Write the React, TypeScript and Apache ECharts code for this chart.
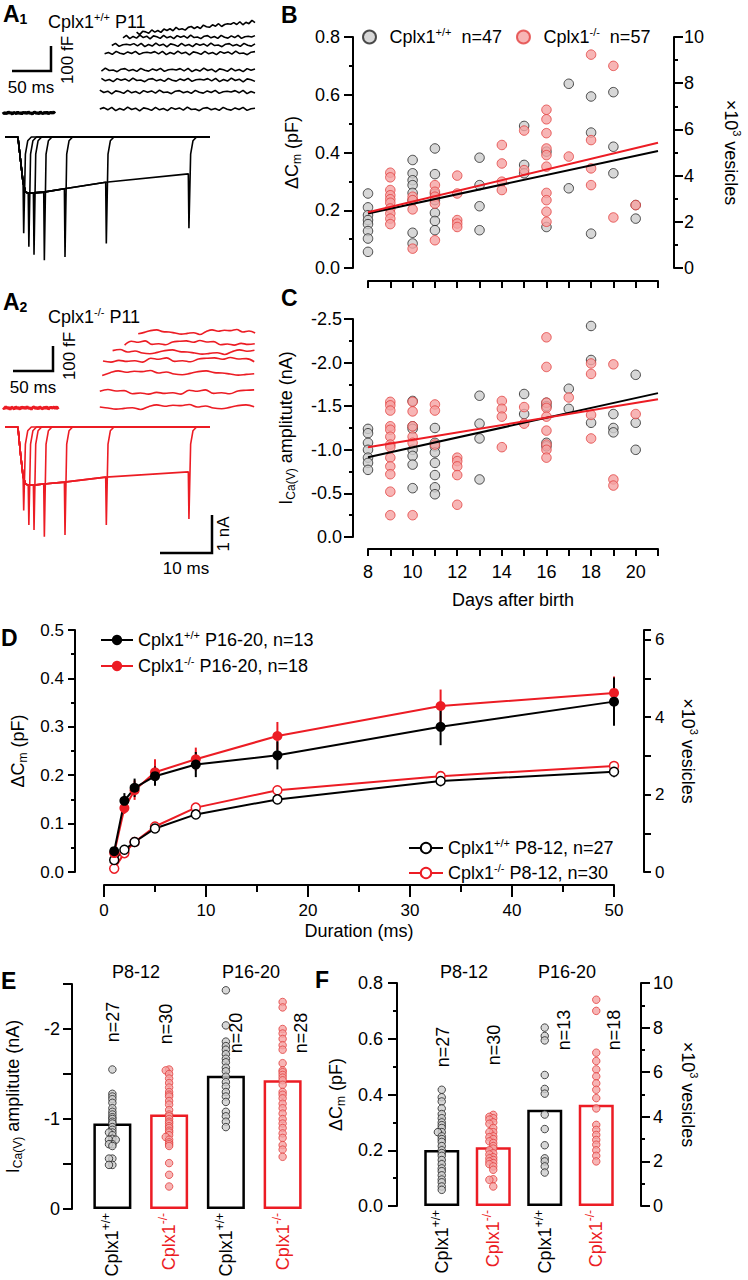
import React, { useEffect, useRef } from 'react';
import * as echarts from 'echarts';

const FONT = '"Liberation Sans", Arial, Helvetica, sans-serif';
const RED = '#ec1c24';
const PINK = '#f5a3a3';
const GRAY = '#cdcdcd';

// ---------------- Panel A: traces ----------------
const capNoise = [0, 5, -3, 6, -6, 2, -4, 7, -2, 3, -7, 4, 1, -5, 6, -3, 2, -6, 5, -1, 4, -4, 7, -2, 0, -6, 3, 5, -3, 2, -5, 6, -1, -4, 4, -2, 6, -5, 1, 3];
const a1CapStart = [121, 121, 123, 123, 127, 136, 150, 167];
const a1CapLevel = [16, 84, 132, 172, 240, 272, 304, 320];
const a1CapDrift = [0, 0, 0, 0, 0, 0, 0, 44];
const a2CapStart = [121, 121, 124, 125, 137, 152, 169];
const a2CapLevel = [4, 64, 140, 192, 224, 260, 304];
const curDur = [1, 2, 3, 5, 9, 17, 33];
const envT = [0, 0.5, 1, 1.5, 2, 3, 5, 9, 17, 33];
const a1Env = [0, -0.6, -1.2, -1.45, -1.48, -1.47, -1.45, -1.36, -1.19, -0.97];
const a1Tail = [-2.53, -2.89, -3.1, -3.24, -3.16, -2.8, -2.4];
const a2Env = [0, -0.7, -1.3, -1.5, -1.53, -1.53, -1.5, -1.45, -1.32, -1.18];
const a2Tail = [-2.2, -2.58, -2.71, -2.89, -2.84, -2.58, -2.42];
const tailDt = [0.12, 0.45, 0.9, 1.6];
const tailRet = [-0.45, -0.1, 0];

// ---------------- Panel B: ΔCm vs age ----------------
const bWt = [
  [8, 0.258], [8, 0.21], [8, 0.183], [8, 0.166], [8, 0.152], [8, 0.128], [8, 0.102], [8, 0.056],
  [10, 0.374], [10, 0.328], [10, 0.304], [10, 0.287], [10, 0.26], [10, 0.235], [10, 0.122], [10, 0.085],
  [11, 0.414], [11, 0.325], [11, 0.258], [11, 0.235], [11, 0.191], [11, 0.163], [11, 0.131],
  [13, 0.382], [13, 0.287], [13, 0.214], [13, 0.131],
  [15, 0.492], [15, 0.357], [15, 0.328],
  [16, 0.403], [16, 0.142],
  [17, 0.638], [17, 0.276],
  [18, 0.594], [18, 0.469], [18, 0.119],
  [19, 0.609], [19, 0.42], [19, 0.328],
  [20, 0.218], [20, 0.171],
];
const bKo = [
  [9, 0.33], [9, 0.314], [9, 0.27], [9, 0.252], [9, 0.238], [9, 0.226], [9, 0.206], [9, 0.189], [9, 0.171], [9, 0.152],
  [10, 0.247], [10, 0.235], [10, 0.203], [10, 0.067],
  [11, 0.287], [11, 0.264], [11, 0.247], [11, 0.223], [11, 0.096],
  [12, 0.32], [12, 0.258], [12, 0.166], [12, 0.154], [12, 0.142],
  [14, 0.426], [14, 0.362], [14, 0.299], [14, 0.27],
  [15, 0.476], [15, 0.339],
  [16, 0.548], [16, 0.515], [16, 0.467], [16, 0.414], [16, 0.391], [16, 0.351], [16, 0.26], [16, 0.235], [16, 0.195], [16, 0.16],
  [17, 0.386],
  [18, 0.739], [18, 0.443], [18, 0.345], [18, 0.287],
  [19, 0.7], [19, 0.175],
  [20, 0.218],
];
const fitAge = [8, 21];
const bFitWt = [0.189, 0.405];
const bFitKo = [0.193, 0.434];

// ---------------- Panel C: ICa vs age ----------------
const cWt = [
  [8, -1.24], [8, -1.19], [8, -1.08], [8, -1.0], [8, -0.91], [8, -0.85], [8, -0.77],
  [10, -1.56], [10, -1.27], [10, -1.24], [10, -1.0], [10, -0.93], [10, -0.83], [10, -0.56],
  [11, -1.25], [11, -1.08], [11, -1.04], [11, -0.97], [11, -0.85], [11, -0.71], [11, -0.57], [11, -0.49],
  [13, -1.62], [13, -1.3], [13, -1.13], [13, -0.66],
  [15, -1.64], [15, -1.41],
  [16, -1.54], [16, -1.5], [16, -1.08], [16, -1.04],
  [17, -1.7], [17, -1.47],
  [18, -2.42], [18, -2.03], [18, -1.31],
  [19, -1.41], [19, -1.25], [19, -1.2],
  [20, -1.86], [20, -1.31], [20, -1.0],
];
const cKo = [
  [9, -1.55], [9, -1.51], [9, -1.45], [9, -1.27], [9, -1.23], [9, -1.15], [9, -1.06], [9, -1.03], [9, -0.91], [9, -0.81], [9, -0.72], [9, -0.52], [9, -0.25],
  [10, -1.55], [10, -1.44], [10, -1.27], [10, -1.15], [10, -1.08], [10, -0.25],
  [11, -1.52], [11, -1.45], [11, -1.06],
  [12, -0.91], [12, -0.87], [12, -0.81], [12, -0.71], [12, -0.37],
  [14, -1.56], [14, -1.47], [14, -1.38], [14, -1.03],
  [15, -1.49], [15, -1.3],
  [16, -2.29], [16, -1.95], [16, -1.54], [16, -1.48], [16, -1.38], [16, -1.22], [16, -1.06], [16, -1.0], [16, -0.91],
  [17, -1.6],
  [18, -1.99], [18, -1.87], [18, -1.4], [18, -1.13],
  [19, -1.98], [19, -0.66], [19, -0.59],
  [20, -1.41],
];
const cFitWt = [-0.914, -1.65];
const cFitKo = [-1.03, -1.58];

// ---------------- Panel D: ΔCm vs duration ----------------
const durations = [1, 2, 3, 5, 9, 17, 33, 50];
const dWtOld = [0.043, 0.147, 0.174, 0.198, 0.222, 0.241, 0.3, 0.352];
const dWtOldSem = [0.006, 0.016, 0.019, 0.02, 0.026, 0.029, 0.038, 0.05];
const dKoOld = [0.039, 0.132, 0.169, 0.206, 0.233, 0.281, 0.343, 0.37];
const dKoOldSem = [0.005, 0.012, 0.02, 0.027, 0.024, 0.029, 0.034, 0.034];
const dWtYoung = [0.025, 0.046, 0.062, 0.09, 0.119, 0.15, 0.188, 0.207];
const dWtYoungSem = [0.004, 0.005, 0.005, 0.007, 0.008, 0.009, 0.011, 0.011];
const dKoYoung = [0.007, 0.039, 0.062, 0.094, 0.133, 0.169, 0.198, 0.219];
const dKoYoungSem = [0.004, 0.005, 0.005, 0.006, 0.007, 0.008, 0.008, 0.009];

// ---------------- Panel E: ICa per group ----------------
const groups = ['wt', 'ko', 'wt', 'ko'];
const eMeans = [-0.95, -1.05, -1.48, -1.43];
const eWtYoung = [-1.55, -1.28, -1.25, -1.22, -1.18, -1.12, -1.08, -1.05, -1.02, -1.0, -0.97, -0.95, -0.91, -0.88, -0.85, -0.85, -0.82, -0.78, -0.77, -0.77, -0.72, -0.72, -0.7, -0.56, -0.56, -0.49, -0.49];
const eKoYoung = [-1.55, -1.54, -1.5, -1.45, -1.4, -1.35, -1.3, -1.27, -1.25, -1.2, -1.16, -1.1, -1.05, -1.03, -1.0, -0.97, -0.95, -0.92, -0.9, -0.87, -0.85, -0.82, -0.8, -0.77, -0.74, -0.72, -0.7, -0.51, -0.38, -0.25];
const eWtOld = [-2.43, -2.04, -1.86, -1.81, -1.77, -1.72, -1.67, -1.63, -1.57, -1.53, -1.47, -1.41, -1.36, -1.3, -1.25, -1.19, -1.08, -1.03, -0.97, -0.91];
const eKoOld = [-2.3, -2.24, -2.0, -1.95, -1.89, -1.82, -1.77, -1.62, -1.54, -1.52, -1.49, -1.46, -1.43, -1.38, -1.3, -1.27, -1.23, -1.17, -1.12, -1.06, -1.0, -0.95, -0.9, -0.84, -0.79, -0.71, -0.66, -0.58];

// ---------------- Panel F: ΔCm per group ----------------
const fMeans = [0.201, 0.211, 0.345, 0.363];
const fWtYoung = [0.417, 0.39, 0.375, 0.35, 0.33, 0.315, 0.3, 0.29, 0.28, 0.265, 0.265, 0.25, 0.24, 0.23, 0.215, 0.2, 0.19, 0.18, 0.165, 0.15, 0.135, 0.125, 0.11, 0.095, 0.085, 0.07, 0.058];
const fKoYoung = [0.327, 0.32, 0.315, 0.31, 0.3, 0.295, 0.28, 0.265, 0.265, 0.25, 0.247, 0.24, 0.232, 0.226, 0.215, 0.206, 0.2, 0.189, 0.185, 0.175, 0.171, 0.165, 0.16, 0.154, 0.15, 0.142, 0.13, 0.096, 0.094, 0.07];
const fWtOld = [0.64, 0.61, 0.594, 0.47, 0.42, 0.403, 0.328, 0.276, 0.218, 0.171, 0.16, 0.142, 0.12];
const fKoOld = [0.74, 0.7, 0.55, 0.52, 0.49, 0.465, 0.44, 0.417, 0.387, 0.35, 0.291, 0.273, 0.255, 0.237, 0.22, 0.2, 0.18, 0.16];

// ---------------- helpers ----------------
function capTrace(start: number, end: number, level: number, drift: number, shift: number, amp: number, step: number) {
  const pts: number[][] = [];
  const n = capNoise.length;
  for (let i = 0; i < n; i += step) {
    const f = i / (n - 1);
    pts.push([start + (end - start) * f, level + drift * f + capNoise[(i + shift) % n] * amp]);
  }
  return pts;
}
function curTrace(k: number, env: number[], tail: number[]) {
  const d = curDur[k];
  const pts: number[][] = [[-2.5, 0]];
  envT.forEach((t, i) => { if (t <= d) pts.push([t, env[i]]); });
  pts.push([d + tailDt[0], tail[k]]);
  tailRet.forEach((v, i) => pts.push([d + tailDt[i + 1], v]));
  pts.push([37.2, 0]);
  return pts;
}
function swarm(vals: number[], cat: number, step: number, thr: number) {
  const placed: number[][] = [];
  const order = [0, -1, 1, -2, 2, -3, 3];
  return vals.map((v) => {
    let s = 0;
    for (const o of order) {
      if (!placed.some((p) => p[0] === o && Math.abs(p[1] - v) < thr)) { s = o; break; }
    }
    placed.push([s, v]);
    return [cat + s * step, v];
  });
}

const richBase = {
  t: { fontSize: 18, fontFamily: FONT, color: '#000', lineHeight: 22 },
  s: { fontSize: 11, fontFamily: FONT, color: '#000', verticalAlign: 'top', lineHeight: 12 },
  sub: { fontSize: 12, fontFamily: FONT, color: '#000', verticalAlign: 'bottom', lineHeight: 12 },
  sup: { fontSize: 11, fontFamily: FONT, color: '#000', verticalAlign: 'top', lineHeight: 12 },
};
const legendText: Record<string, string> = {
  wtB: '{t|Cplx1}{s|+/+}{t|  n=47}',
  koB: '{t|Cplx1}{s|-/-}{t|  n=57}',
  wtOld: '{t|Cplx1}{s|+/+}{t| P16-20, n=13}',
  koOld: '{t|Cplx1}{s|-/-}{t| P16-20, n=18}',
  wtYoung: '{t|Cplx1}{s|+/+}{t| P8-12, n=27}',
  koYoung: '{t|Cplx1}{s|-/-}{t| P8-12, n=30}',
};

const blackLine = { color: '#000', width: 2 };
function yAx(gridIndex: number, o: any) {
  return {
    type: 'value', gridIndex, splitLine: { show: false },
    axisLine: { show: true, onZero: false, lineStyle: blackLine },
    axisTick: { show: true, length: 9, lineStyle: blackLine },
    minorTick: { show: true, splitNumber: 2, length: 4, lineStyle: blackLine },
    axisLabel: { fontSize: 18, color: '#000', fontFamily: FONT, margin: 13 },
    nameLocation: 'middle',
    nameTextStyle: { fontSize: 18, fontFamily: FONT, color: '#000', rich: richBase },
    ...o,
  };
}
function hiddenAx(gridIndex: number, min: number, max: number) {
  return { type: 'value', gridIndex, min, max, show: false, splitLine: { show: false } };
}

function errSeries(mean: number[], sem: number[], color: string) {
  return {
    type: 'custom', xAxisIndex: 6, yAxisIndex: 7, z: 3, silent: true,
    data: durations.map((d, i) => [d, mean[i] - sem[i], mean[i] + sem[i]]),
    encode: { x: 0, y: [1, 2] },
    renderItem: (params: any, api: any) => {
      const a = api.coord([api.value(0), api.value(1)]);
      const b = api.coord([api.value(0), api.value(2)]);
      return { type: 'line', shape: { x1: a[0], y1: a[1], x2: b[0], y2: b[1] }, style: { stroke: color, lineWidth: 2 } };
    },
  };
}

function txt(x: number, y: number, text: string, o: any = {}) {
  return {
    type: 'text', x, y, rotation: o.rot || 0, z: 20,
    style: {
      text, fontFamily: FONT, fontSize: o.size || 18, fontWeight: o.bold ? 'bold' : 'normal',
      fill: o.color || '#000', align: o.align || 'center', verticalAlign: o.va || 'middle', rich: o.rich,
    },
  };
}
function bar(points: number[][]) {
  return { type: 'polyline', z: 20, shape: { points }, style: { stroke: '#000', lineWidth: 2.5, fill: null } };
}

function buildOption() {
  const series: any[] = [];
  // A1 capacitance
  series.push({ type: 'line', xAxisIndex: 0, yAxisIndex: 0, data: capTrace(0, 65, 0, 0, 3, 0.7, 1), showSymbol: false, lineStyle: { color: '#000', width: 3 } });
  a1CapLevel.forEach((lv, i) => series.push({
    type: 'line', xAxisIndex: 0, yAxisIndex: 0, showSymbol: false, lineStyle: { color: '#000', width: 1.6 },
    data: capTrace(a1CapStart[i], 315, lv, a1CapDrift[i], i * 7, 1.1, 1),
  }));
  // A1 currents
  curDur.forEach((_, k) => series.push({
    type: 'line', xAxisIndex: 1, yAxisIndex: 1, showSymbol: false, lineStyle: { color: '#000', width: 1.6 },
    data: curTrace(k, a1Env, a1Tail),
  }));
  // A2 capacitance
  series.push({ type: 'line', xAxisIndex: 2, yAxisIndex: 2, data: capTrace(0, 69, 0, 0, 5, 0.8, 1), showSymbol: false, lineStyle: { color: RED, width: 3 } });
  a2CapLevel.forEach((lv, i) => series.push({
    type: 'line', xAxisIndex: 2, yAxisIndex: 2, showSymbol: false, smooth: 0.4, lineStyle: { color: RED, width: 1.6 },
    data: capTrace(a2CapStart[i], 319, lv, 0, i * 5, 1.4, 2),
  }));
  curDur.forEach((_, k) => series.push({
    type: 'line', xAxisIndex: 3, yAxisIndex: 3, showSymbol: false, lineStyle: { color: RED, width: 1.6 },
    data: curTrace(k, a2Env, a2Tail),
  }));

  const grayDot = { color: GRAY, borderColor: '#222', borderWidth: 1 };
  const pinkDot = { color: PINK, borderColor: '#e2403e', borderWidth: 1 };
  // B
  series.push({ name: 'wtB', type: 'scatter', xAxisIndex: 4, yAxisIndex: 4, symbolSize: 9.5, itemStyle: grayDot, data: bWt });
  series.push({ name: 'koB', type: 'scatter', xAxisIndex: 4, yAxisIndex: 4, symbolSize: 9.5, itemStyle: pinkDot, data: bKo });
  series.push({ type: 'line', xAxisIndex: 4, yAxisIndex: 4, showSymbol: false, lineStyle: { color: '#000', width: 2 }, data: fitAge.map((a, i) => [a, bFitWt[i]]) });
  series.push({ type: 'line', xAxisIndex: 4, yAxisIndex: 4, showSymbol: false, lineStyle: { color: RED, width: 2 }, data: fitAge.map((a, i) => [a, bFitKo[i]]) });
  // C
  series.push({ type: 'scatter', xAxisIndex: 5, yAxisIndex: 6, symbolSize: 9.5, itemStyle: grayDot, data: cWt });
  series.push({ type: 'scatter', xAxisIndex: 5, yAxisIndex: 6, symbolSize: 9.5, itemStyle: pinkDot, data: cKo });
  series.push({ type: 'line', xAxisIndex: 5, yAxisIndex: 6, showSymbol: false, lineStyle: { color: '#000', width: 2 }, data: fitAge.map((a, i) => [a, cFitWt[i]]) });
  series.push({ type: 'line', xAxisIndex: 5, yAxisIndex: 6, showSymbol: false, lineStyle: { color: RED, width: 2 }, data: fitAge.map((a, i) => [a, cFitKo[i]]) });
  // D
  series.push(errSeries(dKoOld, dKoOldSem, RED));
  series.push(errSeries(dWtOld, dWtOldSem, '#000'));
  series.push(errSeries(dKoYoung, dKoYoungSem, RED));
  series.push(errSeries(dWtYoung, dWtYoungSem, '#000'));
  const dLine = (name: string, vals: number[], color: string, open: boolean) => ({
    name, type: 'line', xAxisIndex: 6, yAxisIndex: 7, z: 4, symbol: 'circle', symbolSize: open ? 9 : 10,
    lineStyle: { color, width: 2 },
    itemStyle: open ? { color: '#fff', borderColor: color, borderWidth: 1.5 } : { color, borderColor: color, borderWidth: 0 },
    data: durations.map((d, i) => [d, vals[i]]),
  });
  series.push(dLine('koYoung', dKoYoung, RED, true));
  series.push(dLine('wtYoung', dWtYoung, '#000', true));
  series.push(dLine('koOld', dKoOld, RED, false));
  series.push(dLine('wtOld', dWtOld, '#000', false));
  // E
  series.push({
    type: 'bar', xAxisIndex: 7, yAxisIndex: 9, barWidth: 38, z: 2,
    data: eMeans.map((v, i) => ({ value: v, itemStyle: { color: 'rgba(0,0,0,0)', borderColor: groups[i] === 'wt' ? '#000' : RED, borderWidth: 2.5 } })),
  });
  [eWtYoung, eKoYoung, eWtOld, eKoOld].forEach((vals, i) => series.push({
    type: 'scatter', xAxisIndex: 8, yAxisIndex: 9, symbolSize: 7.5, z: 3,
    itemStyle: groups[i] === 'wt' ? grayDot : pinkDot, data: swarm(vals, i, 0.06, 0.02),
  }));
  // F
  series.push({
    type: 'bar', xAxisIndex: 9, yAxisIndex: 10, barWidth: 35, z: 2,
    data: fMeans.map((v, i) => ({ value: v, itemStyle: { color: 'rgba(0,0,0,0)', borderColor: groups[i] === 'wt' ? '#000' : RED, borderWidth: 2.5 } })),
  });
  [fWtYoung, fKoYoung, fWtOld, fKoOld].forEach((vals, i) => series.push({
    type: 'scatter', xAxisIndex: 10, yAxisIndex: 10, symbolSize: 7.5, z: 3,
    itemStyle: groups[i] === 'wt' ? grayDot : pinkDot, data: swarm(vals, i, 0.075, 0.008),
  }));

  const catRich = {
    k: { fontSize: 18, fontFamily: FONT, color: '#000', lineHeight: 24 },
    ks: { fontSize: 12, fontFamily: FONT, color: '#000', verticalAlign: 'top', lineHeight: 12 },
    r: { fontSize: 18, fontFamily: FONT, color: RED, lineHeight: 24 },
    rs: { fontSize: 12, fontFamily: FONT, color: RED, verticalAlign: 'top', lineHeight: 12 },
  };
  const catAxis = (gridIndex: number) => ({
    type: 'category', gridIndex, data: groups,
    axisLine: { show: false }, axisTick: { show: false },
    axisLabel: {
      rotate: 90, margin: 4, interval: 0, rich: catRich,
      formatter: (v: string) => (v === 'wt' ? '{k|Cplx1}{ks|+/+}' : '{r|Cplx1}{rs|-/-}'),
    },
  });

  const xAxis: any[] = [
    hiddenAx(0, 0, 315),
    hiddenAx(1, -2.5, 37.2),
    hiddenAx(2, 0, 320),
    hiddenAx(3, -2.5, 37.2),
    {
      type: 'value', gridIndex: 4, min: 8, max: 21, interval: 1, offset: 13, splitLine: { show: false },
      axisLine: { show: true, onZero: false, lineStyle: blackLine }, axisTick: { show: true, length: 7, lineStyle: blackLine },
      axisLabel: { show: false },
    },
    {
      type: 'value', gridIndex: 5, min: 8, max: 21, interval: 1, offset: 12, splitLine: { show: false },
      axisLine: { show: true, onZero: false, lineStyle: blackLine }, axisTick: { show: true, length: 7, lineStyle: blackLine },
      axisLabel: { fontSize: 18, color: '#000', fontFamily: FONT, margin: 14, formatter: (v: number) => (v % 2 === 0 && v <= 20 ? String(v) : '') },
      name: 'Days after birth', nameLocation: 'middle', nameGap: 42, nameTextStyle: { fontSize: 18, fontFamily: FONT, color: '#000' },
    },
    {
      type: 'value', gridIndex: 6, min: 0, max: 50, interval: 10, offset: 13, splitLine: { show: false },
      axisLine: { show: true, onZero: false, lineStyle: blackLine }, axisTick: { show: true, length: 12, lineStyle: blackLine },
      minorTick: { show: true, splitNumber: 2, length: 7, lineStyle: blackLine },
      axisLabel: { fontSize: 17, color: '#000', fontFamily: FONT, margin: 17 },
      name: 'Duration (ms)', nameLocation: 'middle', nameGap: 37, nameTextStyle: { fontSize: 18, fontFamily: FONT, color: '#000' },
    },
    catAxis(7),
    hiddenAx(7, -0.5, 3.5),
    catAxis(8),
    hiddenAx(8, -0.5, 3.5),
  ];

  const yAxis: any[] = [
    hiddenAx(0, -20, 392),
    hiddenAx(1, -3.4, 0.2),
    hiddenAx(2, -20, 392),
    hiddenAx(3, -3.4, 0.2),
    yAx(4, {
      min: 0, max: 0.8, interval: 0.2, offset: 15, axisLabel: { fontSize: 18, color: '#000', fontFamily: FONT, margin: 13, formatter: (v: number) => v.toFixed(1) },
      name: '{t|ΔC}{sub|m}{t| (pF)}', nameRotate: 90, nameGap: 50,
    }),
    yAx(4, {
      position: 'right', min: 0, max: 10, interval: 2, offset: 16,
      axisLabel: { fontSize: 18, color: '#000', fontFamily: FONT, margin: 10 },
      name: '{t|×10}{sup|3}{t| vesicles}', nameRotate: -90, nameGap: 46,
    }),
    yAx(5, {
      min: -2.5, max: 0, interval: 0.5, inverse: true, offset: 15,
      axisLabel: { fontSize: 18, color: '#000', fontFamily: FONT, margin: 11, formatter: (v: number) => v.toFixed(1) },
      name: '{t|I}{sub|Ca(V)}{t| amplitute (nA)}', nameRotate: 90, nameGap: 56,
    }),
    yAx(6, {
      min: 0, max: 0.5, interval: 0.1, offset: 29, axisTick: { show: true, length: 7, lineStyle: blackLine },
      axisLabel: { fontSize: 17, color: '#000', fontFamily: FONT, margin: 11, formatter: (v: number) => v.toFixed(1) },
      name: '{t|ΔC}{sub|m}{t| (pF)}', nameRotate: 90, nameGap: 44,
    }),
    yAx(6, {
      position: 'right', min: 0, max: 6.25, interval: 1, offset: 30, minorTick: { show: false },
      axisTick: { show: true, length: 7, lineStyle: blackLine },
      axisLabel: { fontSize: 17, color: '#000', fontFamily: FONT, margin: 11, formatter: (v: number) => (Number.isInteger(v) && v % 2 === 0 ? String(v) : '') },
      name: '{t|×10}{sup|3}{t| vesicles}', nameRotate: -90, nameGap: 33,
    }),
    yAx(7, {
      min: -2.5, max: 0, interval: 0.5, inverse: true, offset: 12, minorTick: { show: false },
      axisLabel: { fontSize: 18, color: '#000', fontFamily: FONT, margin: 12, formatter: (v: number) => (Number.isInteger(v) ? String(v) : '') },
      name: '{t|I}{sub|Ca(V)}{t| amplitute (nA)}', nameRotate: 90, nameGap: 48,
    }),
    yAx(8, {
      min: 0, max: 0.8, interval: 0.2, offset: 19,
      axisLabel: { fontSize: 18, color: '#000', fontFamily: FONT, margin: 14, formatter: (v: number) => v.toFixed(1) },
      name: '{t|ΔC}{sub|m}{t| (pF)}', nameRotate: 90, nameGap: 50,
    }),
    yAx(8, {
      position: 'right', min: 0, max: 10, interval: 2, offset: 19,
      axisLabel: { fontSize: 18, color: '#000', fontFamily: FONT, margin: 12 },
      name: '{t|×10}{sup|3}{t| vesicles}', nameRotate: -90, nameGap: 36,
    }),
  ];

  const grid = [
    { left: 3, top: 15, width: 252, height: 103 },
    { left: 5, top: 129.4, width: 205, height: 136.8 },
    { left: 3, top: 310, width: 256, height: 103 },
    { left: 5, top: 419.4, width: 205, height: 136.8 },
    { left: 368, top: 37, width: 290, height: 231 },
    { left: 368, top: 319, width: 290, height: 218 },
    { left: 104, top: 630, width: 510, height: 242 },
    { left: 84, top: 984, width: 227, height: 225 },
    { left: 416, top: 983, width: 206, height: 223 },
  ];

  const legendBase = {
    formatter: (n: string) => legendText[n],
    textStyle: { fontSize: 18, fontFamily: FONT, color: '#000', rich: richBase },
    selectedMode: false,
  };
  const legend = [
    { ...legendBase, data: ['wtB', 'koB'], left: 357, top: 21, itemWidth: 30, itemHeight: 13, itemGap: 14 },
    { ...legendBase, data: ['wtOld', 'koOld'], orient: 'vertical', left: 95, top: 624, itemWidth: 32, itemHeight: 13, itemGap: 6 },
    { ...legendBase, data: ['wtYoung', 'koYoung'], orient: 'vertical', left: 403, top: 832, itemWidth: 34, itemHeight: 13, itemGap: 5 },
  ];

  const letterRich = {
    a: { fontSize: 23, fontWeight: 'bold', fontFamily: FONT, color: '#000' },
    n: { fontSize: 14, fontWeight: 'bold', fontFamily: FONT, color: '#000', verticalAlign: 'bottom' },
  };
  const graphic = [
    txt(3, 14, '{a|A}{n|1}', { align: 'left', rich: letterRich }),
    txt(48, 22, '{t|Cplx1}{s|+/+}{t| P11}', { align: 'left', rich: richBase }),
    bar([[12, 71], [51, 71], [51, 46]]),
    txt(31, 87, '50 ms', { size: 17 }),
    txt(67, 60, '100 fF', { size: 17, rot: Math.PI / 2 }),
    txt(3, 302, '{a|A}{n|2}', { align: 'left', rich: letterRich }),
    txt(48, 317, '{t|Cplx1}{s|-/-}{t| P11}', { align: 'left', rich: richBase }),
    bar([[13, 371], [53, 371], [53, 346]]),
    txt(33, 387, '50 ms', { size: 17 }),
    txt(69, 356, '100 fF', { size: 17, rot: Math.PI / 2 }),
    bar([[160, 553], [212, 553], [212, 515]]),
    txt(186, 568, '10 ms', { size: 17 }),
    txt(223, 534, '1 nA', { size: 17, rot: Math.PI / 2 }),
    txt(281, 15, 'B', { align: 'left', size: 23, bold: true }),
    txt(281, 298, 'C', { align: 'left', size: 23, bold: true }),
    txt(1, 638, 'D', { align: 'left', size: 23, bold: true }),
    txt(1, 981, 'E', { align: 'left', size: 23, bold: true }),
    txt(315, 980, 'F', { align: 'left', size: 23, bold: true }),
    txt(136, 972, 'P8-12', { size: 18 }),
    txt(251, 972, 'P16-20', { size: 18 }),
    txt(464, 972, 'P8-12', { size: 18 }),
    txt(567, 972, 'P16-20', { size: 18 }),
    txt(113, 1022, 'n=27', { rot: Math.PI / 2 }),
    txt(166, 1024, 'n=30', { rot: Math.PI / 2 }),
    txt(236, 1033, 'n=20', { rot: Math.PI / 2 }),
    txt(301, 1033, 'n=28', { rot: Math.PI / 2 }),
    txt(443, 1047, 'n=27', { rot: Math.PI / 2 }),
    txt(494, 1045, 'n=30', { rot: Math.PI / 2 }),
    txt(564, 1030, 'n=13', { rot: Math.PI / 2 }),
    txt(614, 1030, 'n=18', { rot: Math.PI / 2 }),
  ];

  return {
    animation: false,
    backgroundColor: '#fff',
    textStyle: { fontFamily: FONT },
    grid, xAxis, yAxis, series, legend, graphic,
  };
}

export default function App() {
  const ref = useRef<HTMLDivElement>(null);
  useEffect(() => {
    if (!ref.current) return;
    const chart = echarts.init(ref.current, undefined, { renderer: 'svg' });
    chart.setOption(buildOption() as any);
    return () => chart.dispose();
  }, []);
  return <div ref={ref} style={{ position: 'absolute', left: 0, top: 0, width: 748, height: 1280, background: '#fff' }} />;
}
